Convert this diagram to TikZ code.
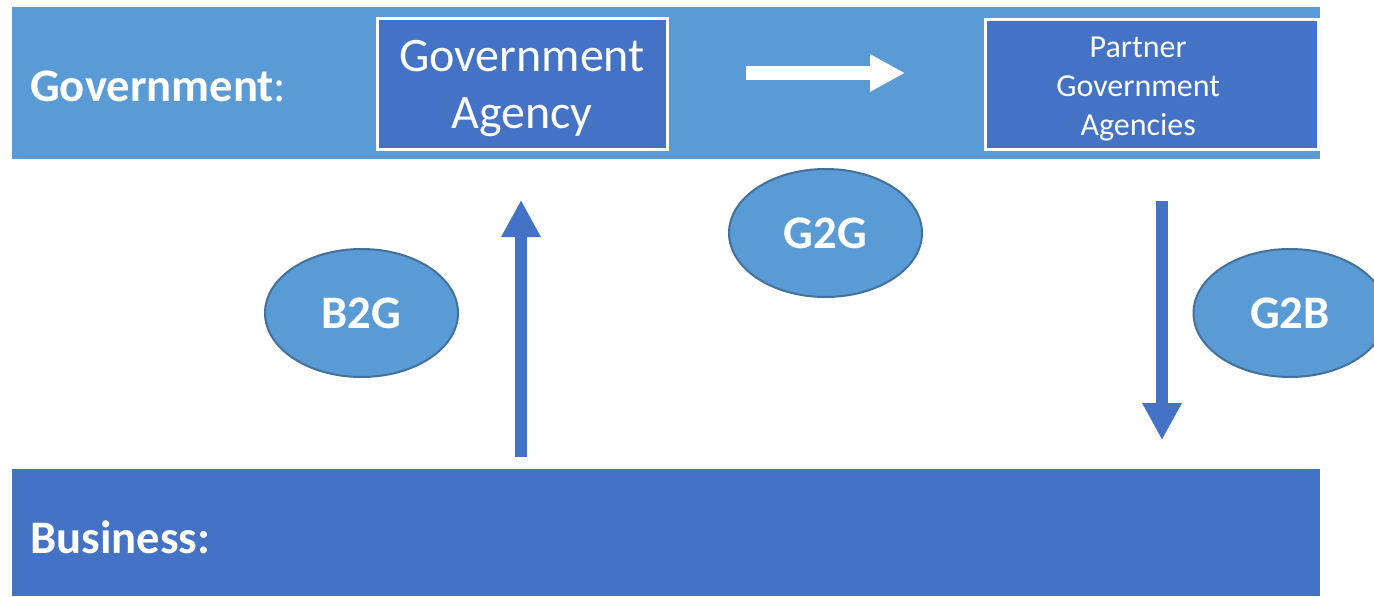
\documentclass[tikz,border=0pt]{standalone}
\usepackage{fontspec}
\setmainfont{Carlito}
\usetikzlibrary{arrows.meta,shapes.geometric}
\definecolor{govblue}{HTML}{5B9BD5}
\definecolor{bizblue}{HTML}{4472C4}
\definecolor{rimblue}{HTML}{41719C}
\tikzset{
  agencybox/.style={draw=white,line width=2.25pt,fill=bizblue,inner sep=0pt},
  agencytext/.style={text=white,align=center,inner sep=0pt},
  trade/.style={ellipse,draw=rimblue,line width=1.5pt,fill=govblue,text=white,inner sep=0pt,
    minimum width=144.75pt,minimum height=96pt,font=\fontsize{35}{42}\selectfont\bfseries},
  flow/.style={draw=bizblue,line width=9pt,-{Triangle[length=27.75pt,width=27.75pt]}}
}
\begin{document}
\begin{tikzpicture}[x=0.75pt,y=0.75pt,yscale=-1,xscale=1]
\clip (0,0) rectangle (1374,596);
\fill[white] (0,0) rectangle (1374,596);
% bands
\fill[govblue] (12,7) rectangle (1320,159);
\fill[bizblue] (12,469) rectangle (1320,596);
\node (govlabel) [anchor=west,inner sep=0pt,text=white,font=\fontsize{35}{42}\selectfont] at (30,86) {\textbf{Government}:};
\node (bizlabel) [anchor=west,inner sep=0pt,text=white,font=\fontsize{35}{42}\selectfont\bfseries] at (30,537) {Business:};
% agencies
\node (agency) [agencybox,minimum width=217.5pt,minimum height=98.25pt] at (522,83.5) {};
\node (agency text) [agencytext,font=\fontsize{36}{43}\selectfont] at ([yshift=4pt]agency.center) {Government\\Agency};
\node (partner) [agencybox,minimum width=249.75pt,minimum height=97.5pt] at (1151.5,84) {};
\node (partner text) [agencytext,font=\fontsize{24}{29}\selectfont] at ([xshift=-10pt,yshift=3.75pt]partner.center) {Partner\\Government\\Agencies};
% relations
\node (g2g) [trade] at (825.5,233) {G2G};
\node (b2g) [trade] at (361.5,313) {B2G};
\node (g2b) [trade] at (1290,313) {G2B};
% arrows
\coordinate (g2g tail) at (746,73);
\coordinate (g2g tip) at (905,73);
\coordinate (b2g tail) at (521,457);
\coordinate (b2g tip) at (521,200);
\coordinate (g2b tail) at (1162,201);
\coordinate (g2b tip) at (1162,440);
\draw [draw=white,line width=10.5pt,-{Triangle[length=26.25pt,width=26.25pt]}] (g2g tail) -- (g2g tip);
\draw [flow] (b2g tail) -- (b2g tip);
\draw [flow] (g2b tail) -- (g2b tip);
\end{tikzpicture}
\end{document}
